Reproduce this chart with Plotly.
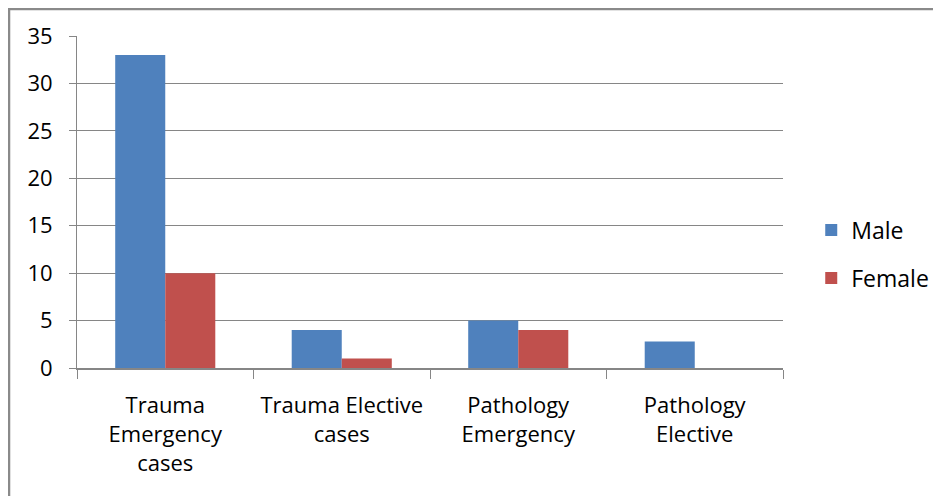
import plotly.graph_objects as go

categories = ["Trauma<br>Emergency<br>cases", "Trauma Elective<br>cases",
              "Pathology<br>Emergency", "Pathology<br>Elective"]
male = [33, 4, 5, 2.8]
female = [10, 1, 4, 0]
y_ticks = [0, 5, 10, 15, 20, 25, 30, 35]

FONT = "Open Sans"
GRID = "#868686"

fig = go.Figure()
fig.add_trace(go.Bar(name="Male", x=categories, y=male, marker_color="#4F81BD",
                     marker_line_width=0, legendgroup="m"))
fig.add_trace(go.Bar(name="Female", x=categories, y=female, marker_color="#C0504D",
                     marker_line_width=0, legendgroup="f"))

# page body has an 8px margin, so the figure is sized/offset to compensate
fig.update_layout(
    width=933, height=488,
    margin=dict(l=69, r=158, t=28, b=128, autoexpand=False),
    paper_bgcolor="white", plot_bgcolor="white",
    barmode="group", bargap=0.433, bargroupgap=0,
    font=dict(family=FONT, size=20, color="#000000"),
    legend=dict(x=1.04, y=0.343, xanchor="left", yanchor="middle",
                traceorder="grouped", tracegroupgap=15,
                font=dict(family=FONT, size=23), itemwidth=30),
    xaxis=dict(showgrid=False, showline=True, linecolor=GRID, linewidth=2,
               ticks="outside", tickson="boundaries", ticklen=9, tickcolor=GRID,
               tickwidth=1, tickfont=dict(family=FONT, size=22),
               ticklabelstandoff=17, automargin=False),
    yaxis=dict(range=[0, 35], tickvals=y_ticks, showgrid=True, gridcolor=GRID,
               gridwidth=1, showline=True, linecolor=GRID, linewidth=1,
               ticks="outside", ticklen=7, tickcolor=GRID, zeroline=False,
               tickfont=dict(family=FONT, size=22), ticklabelstandoff=12,
               automargin=False),
    shapes=[dict(type="rect", xref="paper", yref="paper",
                 x0=-0.0963, x1=1.25, y0=-0.45, y1=1.0813,
                 line=dict(color="#8a8a8a", width=2.5), fillcolor="rgba(0,0,0,0)",
                 layer="below")],
)

fig.write_html("out.html")
